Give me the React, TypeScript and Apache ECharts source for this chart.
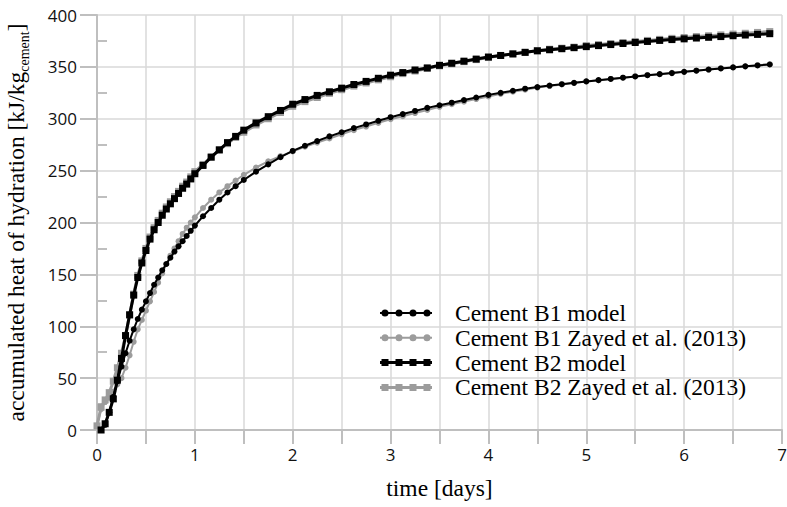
import React, { useEffect, useRef } from "react";
import * as echarts from "echarts";

// sampling times in hours (converted to days for the x axis)
const hours = [
  0, 1, 2, 3, 4, 5, 6, 7, 8, 9, 10, 11, 12, 13, 14, 15, 16, 17, 18, 19, 20, 21, 22, 23, 24,
  26, 28, 30, 32, 34, 36,
  39, 42, 45, 48, 51, 54, 57, 60, 63, 66, 69, 72, 75, 78, 81, 84, 87, 90, 93, 96,
  99, 102, 105, 108, 111, 114, 117, 120, 123, 126, 129, 132, 135, 138, 141, 144,
  147, 150, 153, 156, 159, 162, 165,
];

const b1Model = [
  null, 0, 5, 17, 32, 47, 61, 74, 86, 97, 107, 116, 124, 132, 140, 147, 154, 160, 166, 172, 177, 182, 187, 192, 197,
  206, 214, 222, 229, 235, 241,
  249, 256, 263, 269, 274, 278.5, 283, 287, 291, 294.5, 298, 301.5, 304.5, 307.5, 310.5, 313, 315.5, 318, 320.5, 323,
  325, 327, 329, 330.5, 332, 333.3, 334.6, 336, 337.2, 338.4, 339.6, 340.8, 342, 343, 344, 345.2,
  346.3, 347.4, 348.5, 349.5, 350.5, 351.4, 352.3,
];

const b1Zayed = [
  4, 20, 27, 31, 37, 44, 50, 60, 72, 85, 97, 106, 115, 124, 133, 142, 151, 160, 168, 175, 182, 189, 195, 200, 205,
  214, 222, 229, 235, 240.5, 246,
  253, 259, 264, 268.5, 273, 277, 281, 285, 289, 292.5, 296, 299.5, 302.5, 305.5, 308.5, 311.5, 314, 316.5, 319, 321.5,
  324, 326, 328, 330, 331.5, 333, 334.5, 336, 337.2, 338.4, 339.6, 340.8, 342, 343.1, 344.2, 345.3,
  346.4, 347.5, 348.6, 349.6, 350.6, 351.6, 352.6,
];

const b2Model = [
  null, 0, 6, 17, 30, 48, 69, 91, 111, 130, 147, 161, 173, 184, 193, 200, 207, 213, 218, 223, 228, 233, 237, 242, 247,
  255, 263, 270, 277, 283, 289,
  296, 302, 308, 314, 318.5, 322.5, 326, 329.5, 333, 336, 339, 342, 344.5, 347, 349, 351.5, 353.5, 355.5, 357.5, 359.5,
  361, 362.5, 364, 365.5, 366.5, 367.5, 368.5, 369.5, 370.5, 371.5, 372.5, 373.5, 374.5, 375.5, 376.3, 377,
  377.8, 378.5, 379.2, 380, 380.7, 381.3, 382,
];

const b2Zayed = [
  4, 22, 29, 36, 47, 60, 74, 91, 111, 131, 149, 163, 175, 186, 195, 202, 209, 215, 220, 225, 230, 235, 239, 244, 249,
  256, 263, 270, 276, 282, 287,
  294, 300, 306, 312, 316.5, 320.5, 324.5, 328, 331.5, 334.5, 337.5, 340.5, 343.5, 346, 348.5, 351, 353, 355, 357, 359,
  361, 362.5, 364, 365.5, 367, 368, 369, 370.5, 371.5, 372.5, 373.5, 374.5, 375.5, 376.5, 377.5, 378.3,
  379.2, 380, 380.8, 381.6, 382.4, 383.2, 384,
];

const seriesNames = [
  "Cement B1 model",
  "Cement B1 Zayed et al. (2013)",
  "Cement B2 model",
  "Cement B2 Zayed et al. (2013)",
];

const yMinorTicks = [25, 75, 125, 175, 225, 275, 325, 375];

const BLACK = "#000000";
const GRAY = "#9c9c9c";

function pairs(vals: (number | null)[]) {
  const out: [number, number][] = [];
  vals.forEach((v, i) => {
    if (v !== null && v !== undefined) out.push([hours[i] / 24, v]);
  });
  return out;
}

// legend icons: line with four markers (bbox 52 x 7)
function circleIcon() {
  let d = "";
  const cs = [5, 19, 33, 47];
  const r = 3.5;
  const segs = [[0, 1.6], [8.4, 15.6], [22.4, 29.6], [36.4, 43.6], [50.4, 52]];
  segs.forEach(([a, b]) => {
    d += `M${a} 2.5 H${b} V4.5 H${a} Z `;
  });
  cs.forEach((c) => {
    d += `M${c - r} 3.5 A${r} ${r} 0 1 1 ${c + r} 3.5 A${r} ${r} 0 1 1 ${c - r} 3.5 Z `;
  });
  return "path://" + d.trim();
}
function squareIcon() {
  let d = "";
  const cs = [5, 19, 33, 47];
  const h = 3.5;
  const segs = [[0, 1.5], [8.5, 15.5], [22.5, 29.5], [36.5, 43.5], [50.5, 52]];
  segs.forEach(([a, b]) => {
    d += `M${a} 2 H${b} V5 H${a} Z `;
  });
  cs.forEach((c) => {
    d += `M${c - h} 0 H${c + h} V7 H${c - h} Z `;
  });
  return "path://" + d.trim();
}

export default function App() {
  const ref = useRef<HTMLDivElement>(null);
  useEffect(() => {
    if (!ref.current) return;
    const chart = echarts.init(ref.current, null, { renderer: "svg" });
    const axisGray = "#bfbfbf";
    const gridGray = "#d9d9d9";
    const tickFont = { fontFamily: "Open Sans", fontSize: 17, color: "#111" };
    const serif = "Liberation Serif";

    chart.setOption({
      animation: false,
      backgroundColor: "#ffffff",
      grid: { left: 97, right: 5, top: 15, bottom: 77, outerBoundsMode: "none", containLabel: false },
      legend: {
        orient: "vertical",
        left: 375,
        top: 296,
        itemWidth: 52,
        itemHeight: 7,
        itemGap: 0.8,
        textStyle: {
          fontFamily: serif,
          fontSize: 23.5,
          color: "#000",
          lineHeight: 22,
          padding: [0, 0, 0, 18],
        },
        data: [
          { name: seriesNames[0], icon: circleIcon() },
          { name: seriesNames[1], icon: circleIcon() },
          { name: seriesNames[2], icon: squareIcon() },
          { name: seriesNames[3], icon: squareIcon() },
        ],
      },
      xAxis: {
        type: "value",
        min: 0,
        max: 7,
        interval: 0.5,
        name: "time [days]",
        nameLocation: "middle",
        nameGap: 46,
        nameTextStyle: { fontFamily: serif, fontSize: 23.5, color: "#000" },
        axisLine: { lineStyle: { color: axisGray, width: 2 } },
        axisTick: { show: true, length: 14, lineStyle: { color: axisGray, width: 2 } },
        axisLabel: {
          ...tickFont,
          margin: 16,
          formatter: (v: number) => (Math.abs(v - Math.round(v)) < 1e-9 ? String(Math.round(v)) : ""),
        },
        splitLine: { show: true, lineStyle: { color: gridGray, width: 1.5 } },
      },
      yAxis: [
        {
          type: "value",
          min: 0,
          max: 400,
          interval: 50,
          name: "accumulated heat of hydration [kJ/kg{sub|cement}]",
          nameLocation: "middle",
          nameGap: 66,
          nameRotate: 90,
          nameTextStyle: {
            fontFamily: serif,
            fontSize: 23.5,
            color: "#000",
            lineHeight: 30,
            rich: {
              sub: {
                fontFamily: serif,
                fontSize: 14,
                color: "#000",
                lineHeight: 14,
                verticalAlign: "bottom",
              },
            },
          },
          axisLine: { show: true, lineStyle: { color: axisGray, width: 2 } },
          axisTick: { show: true, length: 17, lineStyle: { color: axisGray, width: 2 } },
          axisLabel: { ...tickFont, margin: 20 },
          splitLine: { show: true, lineStyle: { color: gridGray, width: 1.5 } },
        },
        {
          type: "value",
          min: 0,
          max: 400,
          position: "left",
          axisLine: { show: false },
          axisLabel: { show: false },
          splitLine: { show: false },
          axisTick: {
            show: true,
            inside: true,
            length: 10,
            customValues: yMinorTicks,
            lineStyle: { color: axisGray, width: 2 },
          },
        },
      ],
      series: [
        {
          name: seriesNames[1],
          type: "line",
          z: 2,
          data: pairs(b1Zayed),
          symbol: "circle",
          symbolSize: 6,
          showAllSymbol: true,
          itemStyle: { color: GRAY },
          lineStyle: { color: GRAY, width: 2 },
        },
        {
          name: seriesNames[3],
          type: "line",
          z: 2,
          data: pairs(b2Zayed),
          symbol: "rect",
          symbolSize: [7, 7],
          showAllSymbol: true,
          itemStyle: { color: GRAY },
          lineStyle: { color: GRAY, width: 3 },
        },
        {
          name: seriesNames[0],
          type: "line",
          z: 3,
          data: pairs(b1Model),
          symbol: "circle",
          symbolSize: 6,
          showAllSymbol: true,
          itemStyle: { color: BLACK },
          lineStyle: { color: BLACK, width: 2 },
        },
        {
          name: seriesNames[2],
          type: "line",
          z: 3,
          data: pairs(b2Model),
          symbol: "rect",
          symbolSize: [7, 7],
          showAllSymbol: true,
          itemStyle: { color: BLACK },
          lineStyle: { color: BLACK, width: 3 },
        },
      ],
    });
    return () => chart.dispose();
  }, []);
  return (
    <div
      ref={ref}
      style={{ position: "fixed", left: 0, top: 0, width: 787, height: 507 }}
    />
  );
}
